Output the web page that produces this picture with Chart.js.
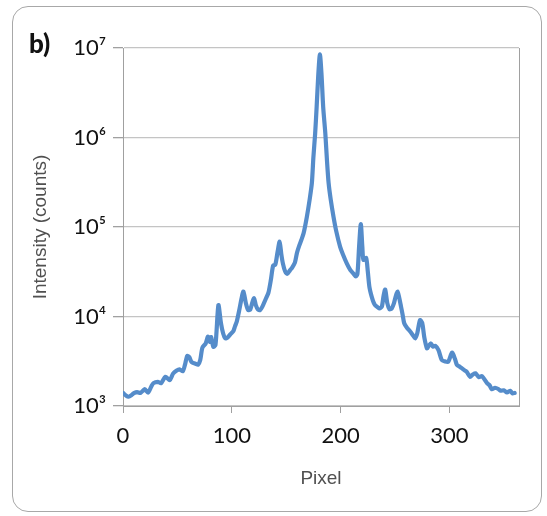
<!DOCTYPE html>
<html>
<head>
<meta charset="utf-8">
<script src="https://cdn.jsdelivr.net/npm/chart.js@4.4.1/dist/chart.umd.min.js"></script>
<style>
  body { margin: 0; background: #fff; }
  #wrap { position: relative; width: 547px; height: 516px; }
  #frame {
    position: absolute; left: 12px; top: 6px; width: 530px; height: 506px;
    border: 1.3px solid #a8a8a8; border-radius: 16px; box-sizing: border-box;
  }
  #chart { position: absolute; left: 0; top: 0; }
</style>
</head>
<body>
<div id="wrap">
  <div id="frame"></div>
  <canvas id="chart" width="547" height="516"></canvas>
</div>
<script>
// pixel positions, with intensity in counts
var pixel = [
  0, 3, 5, 8, 10, 13, 16, 20, 23, 26, 28, 32, 35, 39, 43, 46, 49, 52, 55, 57,
  59, 61, 63, 67, 69, 71, 73, 76, 78, 79, 80, 81, 83, 85, 87.7, 90, 92, 94, 96, 99,
  101.5, 103, 104.6, 107, 109, 110.7, 113, 115, 117, 119, 120.5, 122, 124, 126, 128, 131, 133.7, 136, 138, 140,
  142, 144, 145.5, 147, 149, 151, 153.6, 155, 158, 160, 162, 164, 166, 169, 171.5, 173.6, 175, 176.6, 178, 179.5,
  181, 182.5, 184, 186, 187.5, 189, 191, 193.5, 196, 199.6, 202, 205.8, 209, 212, 214, 215.5, 217, 218.6, 220, 221,
  223.5, 225, 226.6, 229.7, 231.5, 233.4, 236, 238, 239.5, 241, 243, 245, 247, 249, 250.5, 252.4, 254, 255.5, 257, 258.5,
  261, 264, 266, 268.6, 270.5, 273, 275, 277, 279.4, 281, 283, 285, 287, 290, 293, 296, 299, 302.4, 305, 307,
  309.5, 311.6, 314, 316, 319, 321.5, 324, 327, 330, 334.6, 337, 339, 342, 345, 347, 350, 353, 356, 358, 360
];
var intensity = [
  1400, 1300, 1270, 1330, 1390, 1430, 1400, 1540, 1410, 1650, 1800, 1860, 1800, 2120, 1950, 2300, 2480, 2570, 2450, 2900,
  3620, 3500, 3100, 2950, 2900, 3270, 4500, 5000, 5940, 5500, 5200, 5900, 4600, 4800, 13400, 8500, 6500, 5700, 5800, 6400,
  6900, 7800, 8800, 12000, 16000, 19000, 14000, 11800, 12000, 14500, 16000, 13500, 12000, 11800, 12800, 15500, 18500, 26000, 37000, 38000,
  52000, 68500, 50000, 39000, 32000, 30000, 33000, 34500, 40000, 52000, 62000, 72000, 85000, 130000, 200000, 310000, 600000, 1100000, 2200000, 5000000,
  8500000, 5000000, 2200000, 1100000, 550000, 310000, 200000, 130000, 90000, 60000, 50000, 39000, 33000, 30000, 28000, 30000, 60000, 108000, 60000, 43000,
  45000, 32000, 21000, 15000, 13500, 12900, 12300, 13000, 17000, 20000, 14000, 12000, 12300, 14000, 16500, 19000, 16000, 13000, 10500, 8400,
  7500, 6800, 6300, 5700, 6500, 9100, 8500, 5800, 4400, 4700, 5000, 4600, 4700, 4200, 3270, 3150, 3130, 3940, 3400, 2870,
  2750, 2630, 2500, 2400, 2120, 2250, 2320, 2100, 2150, 1800, 1700, 1540, 1600, 1550, 1480, 1500, 1420, 1480, 1380, 1400
];
var xTicks = [0, 100, 200, 300];
var yTicks = [1e3, 1e4, 1e5, 1e6, 1e7];
var supers = { 3: "\u00b3", 4: "\u2074", 5: "\u2075", 6: "\u2076", 7: "\u2077" };

var points = pixel.map(function (p, i) { return { x: p, y: intensity[i] }; });

var gridGrey = "#c4c4c4";
var axisGrey = "#a0a0a0";

// panel letter and the right edge of the plot frame
var decorations = {
  id: "decorations",
  afterDraw: function (chart) {
    var ctx = chart.ctx;
    var a = chart.chartArea;
    ctx.save();
    ctx.strokeStyle = axisGrey;
    ctx.lineWidth = 1;
    ctx.beginPath();
    ctx.moveTo(a.right + 0.5, a.top);
    ctx.lineTo(a.right + 0.5, a.bottom);
    ctx.stroke();
    ctx.fillStyle = "#111";
    ctx.font = "900 26px Lato";
    ctx.textBaseline = "middle";
    ctx.fillText("b)", 29, 45);
    ctx.restore();
  }
};

new Chart(document.getElementById("chart"), {
  type: "line",
  data: {
    datasets: [
      {
        data: points,
        borderColor: "#558cca",
        borderWidth: 4.2,
        pointRadius: 0,
        tension: 0.25,
        borderJoinStyle: "round",
        borderCapStyle: "round",
        fill: false,
      },
    ],
  },
  options: {
    responsive: false,
    animation: false,
    layout: { padding: { left: 0, right: 28, top: 48, bottom: 0 } },
    plugins: {
      legend: { display: false },
      tooltip: { enabled: false },
    },
    scales: {
      x: {
        type: "linear",
        min: 0,
        max: 364,
        afterBuildTicks: function (scale) {
          scale.ticks = xTicks.map(function (v) { return { value: v }; });
        },
        afterFit: function (scale) { scale.height = 110; },
        grid: { drawOnChartArea: false, tickLength: 7, color: axisGrey },
        border: { color: axisGrey },
        ticks: {
          color: "#111",
          font: { family: "Lato", size: 22 },
          padding: 10,
          maxRotation: 0,
        },
        title: {
          display: true,
          text: "Pixel",
          color: "#505050",
          font: { family: "Liberation Sans", size: 19 },
          padding: { top: 0, bottom: 26 },
        },
      },
      y: {
        type: "logarithmic",
        min: 1e3,
        max: 1e7,
        afterBuildTicks: function (scale) {
          scale.ticks = yTicks.map(function (v) { return { value: v }; });
        },
        afterFit: function (scale) { scale.width = 123; },
        grid: { color: gridGrey, lineWidth: 1.3, tickLength: 10, tickColor: axisGrey },
        border: { color: axisGrey },
        ticks: {
          color: "#111",
          font: { family: "Lato", size: 22 },
          padding: 7,
          callback: function (v) {
            return "10" + supers[Math.round(Math.log10(v))];
          },
        },
        title: {
          display: true,
          text: "Intensity (counts)",
          color: "#505050",
          font: { family: "Liberation Sans", size: 19 },
          padding: { top: 29, bottom: 0 },
        },
      },
    },
  },
  plugins: [decorations],
});
</script>
</body>
</html>
